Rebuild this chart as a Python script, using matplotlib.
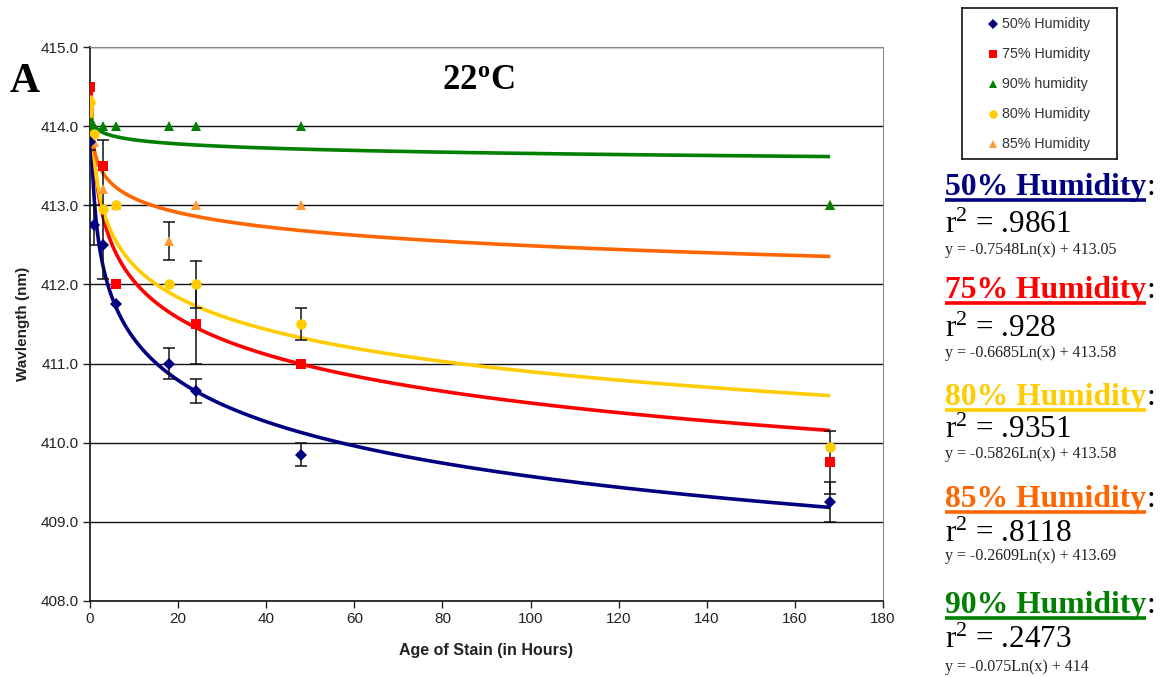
import numpy as np
import matplotlib
matplotlib.use("Agg")
import matplotlib.pyplot as plt
from matplotlib.lines import Line2D

plt.rcParams['font.family'] = ['Liberation Sans', 'DejaVu Sans']
plt.rcParams['mathtext.fontset'] = 'custom'
plt.rcParams['mathtext.rm'] = 'Liberation Serif'
plt.rcParams['mathtext.bf'] = 'Liberation Serif:bold'
plt.rcParams['mathtext.it'] = 'Liberation Serif:italic'

# ---------------- data ----------------
labels = ["50% Humidity", "75% Humidity", "90% humidity", "80% Humidity", "85% Humidity"]
colors_marker = ["#000080", "#FF0000", "#008000", "#FFCC00", "#FF9933"]
colors_line = ["#000080", "#FF0000", "#008000", "#FFCC00", "#FF6600"]
markers = ["D", "s", "^", "o", "^"]

x50 = [0.1, 1, 3, 6, 18, 24, 48, 168]
y50 = [413.8, 412.75, 412.5, 411.75, 411.0, 410.65, 409.85, 409.25]
e50 = [0.1, 0.25, 0.0, 0.0, 0.2, 0.15, 0.15, 0.25]

x75 = [0.1, 3, 6, 24, 48, 168]
y75 = [414.5, 413.5, 412.0, 411.5, 411.0, 409.75]
e75 = [0.0, 0.0, 0.0, 0.5, 0.0, 0.4]

x90 = [0.1, 1, 3, 6, 18, 24, 48, 168]
y90 = [414.0, 414.0, 414.0, 414.0, 414.0, 414.0, 414.0, 413.0]
e90 = [0, 0, 0, 0, 0, 0, 0, 0]

x80 = [0.1, 1, 3, 6, 18, 24, 48, 168]
y80 = [414.3, 413.9, 412.95, 413.0, 412.0, 412.0, 411.5, 409.95]
e80 = [0.0, 0.0, 0.88, 0.0, 0.0, 0.3, 0.2, 0.0]

x85 = [0.1, 1, 3, 6, 18, 24, 48, 168]
y85 = [414.0, 413.8, 413.2, 413.0, 412.55, 413.0, 413.0, 413.0]
e85 = [0, 0, 0, 0, 0.24, 0, 0, 0]

# logarithmic trendline coefficients (slope, intercept) and r^2
fit_a = [-0.7548, -0.6685, -0.075, -0.5826, -0.2609]
fit_b = [413.05, 413.58, 414.0, 413.58, 413.69]
r2_text = [".9861", ".928", ".2473", ".9351", ".8118"]
eq_text = ["y = -0.7548Ln(x) + 413.05", "y = -0.6685Ln(x) + 413.58",
           "y = -0.075Ln(x) + 414", "y = -0.5826Ln(x) + 413.58",
           "y = -0.2609Ln(x) + 413.69"]

xs_all = [x50, x75, x90, x80, x85]
ys_all = [y50, y75, y90, y80, y85]
es_all = [e50, e75, e90, e80, e85]

yticks = [408, 409, 410, 411, 412, 413, 414, 415]
xticks = [0, 20, 40, 60, 80, 100, 120, 140, 160, 180]

W, H = 1169, 677
fig = plt.figure(figsize=(W / 100, H / 100), dpi=100)
fx = lambda px: px / W
fy = lambda py: 1 - py / H

ax = fig.add_axes([fx(90), fy(601), (883 - 90) / W, (601 - 47) / H])
ax.set_xlim(0, 180)
ax.set_ylim(408, 415)
ax.set_yticks(yticks)
ax.set_yticklabels([f"{v:.1f}" for v in yticks])
ax.set_xticks(xticks)
ax.set_xticklabels([str(v) for v in xticks])
ax.tick_params(axis='both', direction='out', length=5, width=1, colors='#222222',
               labelsize=11, pad=3)
ax.yaxis.grid(True, color='#111111', lw=1)
ax.set_axisbelow(True)
for s in ['top', 'right']:
    ax.spines[s].set_color('#888888')
for s in ['left', 'bottom']:
    ax.spines[s].set_color('#111111')
    ax.spines[s].set_linewidth(1.2)

ax.set_xlabel("Age of Stain (in Hours)", fontsize=11.5, fontweight='bold', color='#222222', labelpad=12)
ax.set_ylabel("Wavlength (nm)", fontsize=11, fontweight='bold', color='#222222', labelpad=8)

# trendlines
xfit = np.geomspace(0.25, 168, 400)
order = [0, 1, 3, 4, 2]
for i in order:
    ax.plot(xfit, fit_a[i] * np.log(xfit) + fit_b[i], color=colors_line[i], lw=2.6,
            solid_capstyle='butt', zorder=3)

# data points with error bars
msizes = [6, 7, 7, 7.5, 7]
draw_order = [4, 2, 3, 1, 0]
for i in draw_order:
    xs, ys, es = xs_all[i], ys_all[i], es_all[i]
    xe = [x for x, e in zip(xs, es) if e > 0]
    ye = [y for y, e in zip(ys, es) if e > 0]
    ee = [e for e in es if e > 0]
    if xe:
        ax.errorbar(xe, ye, yerr=ee, fmt='none', ecolor='#111111', elinewidth=1.1,
                    capsize=4, capthick=1.1, zorder=4)
    ax.plot(xs, ys, linestyle='none', marker=markers[i], color=colors_marker[i],
            markersize=msizes[i], markeredgewidth=0, zorder=5)

# panel label and temperature
fig.text(fx(10), fy(92), "A", fontsize=30, fontweight='bold', family='Liberation Serif',
         va='baseline', ha='left')
fig.text(fx(442), fy(89), r"$\mathbf{22^{o}C}$", fontsize=25, va='baseline', ha='left')

# legend box (manual)
lax = fig.add_axes([fx(962), fy(159), 155 / W, 151 / H])
lax.set_xlim(962, 1117)
lax.set_ylim(159, 8)
lax.set_xticks([])
lax.set_yticks([])
for s in lax.spines.values():
    s.set_color('#111111')
    s.set_linewidth(1.2)
leg_rows = [24, 54, 84, 114, 144]
for k in range(5):
    lax.plot([993], [leg_rows[k]], marker=markers[k], color=colors_marker[k],
             markersize=[5, 5.5, 6, 6, 6][k], markeredgewidth=0, linestyle='none')
    lax.text(1002, leg_rows[k], labels[k], fontsize=10.3, color='#333333', va='center', ha='left')

# right-hand annotations
ann_order = [0, 1, 3, 4, 2]
ann_titles = ["50% Humidity", "75% Humidity", "80% Humidity", "85% Humidity", "90% Humidity"]
title_base = [195, 298, 405, 507, 613]
r2_base = [233, 337, 438, 542, 648]
eq_base = [254, 357, 458, 560, 671]
x0 = 945
fig.canvas.draw()
renderer = fig.canvas.get_renderer()
for k, i in enumerate(ann_order):
    t = fig.text(fx(x0), fy(title_base[k]), ann_titles[k], fontsize=22.8, fontweight='bold',
                 family='Liberation Serif', color=colors_line[i], va='baseline', ha='left')
    bb = t.get_window_extent(renderer)
    x1 = bb.x1
    fig.text(x1 / W + 0.5 / W, fy(title_base[k]), ":", fontsize=22.8, family='Liberation Serif',
             color='black', va='baseline', ha='left')
    uy = fy(title_base[k] + 5)
    fig.add_artist(Line2D([fx(x0), x1 / W], [uy, uy], color=colors_line[i], lw=2.6,
                          transform=fig.transFigure, solid_capstyle='butt'))
    fig.text(fx(x0), fy(r2_base[k]), r"r$^{\mathrm{2}}$ = " + r2_text[i], fontsize=22.5,
             family='Liberation Serif', color='black', va='baseline', ha='left')
    fig.text(fx(x0), fy(eq_base[k]), eq_text[i], fontsize=11.5,
             family='Liberation Serif', color='#222222', va='baseline', ha='left')

fig.savefig("out.png", dpi=100)
